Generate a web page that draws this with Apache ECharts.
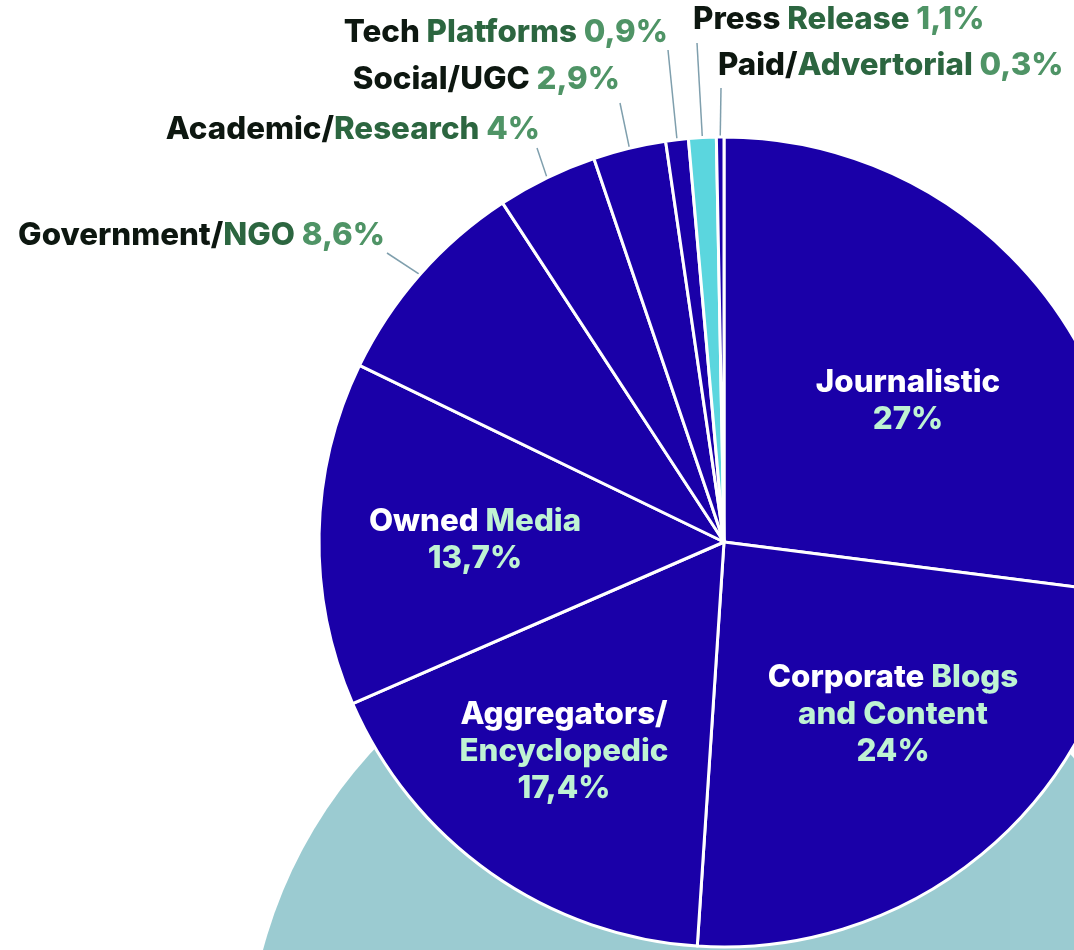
<!DOCTYPE html>
<html><head><meta charset="utf-8">
<script src="https://cdn.jsdelivr.net/npm/echarts@6/dist/echarts.min.js"></script>
<style>html,body{margin:0;padding:0;background:#fff}#c{width:1074px;height:950px}</style>
</head><body><div id="c"></div>
<script>
// ---- data ----
const categories = ['Journalistic', 'Corporate Blogs and Content', 'Aggregators/Encyclopedic', 'Owned Media',
  'Government/NGO', 'Academic/Research', 'Social/UGC', 'Tech Platforms', 'Press Release', 'Paid/Advertorial'];
const values = [27, 24, 17.4, 13.7, 8.6, 4, 2.9, 0.9, 1.1, 0.3];
// rich-text display of each name (white/dark part | mint/green part)
const namePrimary = ['Journalistic', 'Corporate', 'Aggregators/', 'Owned', 'Government/', 'Academic/', 'Social/UGC', 'Tech', 'Press', 'Paid/'];
const nameSecondary = ['', 'Blogs\nand Content', 'Encyclopedic', 'Media', 'NGO', 'Research', '', 'Platforms', 'Release', 'Advertorial'];

// ---- style / layout ----
const sliceColors = ['#1a00a8', '#1a00a8', '#1a00a8', '#1a00a8', '#1a00a8', '#1a00a8', '#1a00a8', '#1a00a8', '#5bd6de', '#1a00a8'];
const CX = 724, CY = 542, R = 405;
const insideCenters = {0: [908, 401], 1: [893, 715], 2: [564, 752], 3: [475, 540]};
const outsideLabels = {
  4: {x: 385, y: 236, align: 'right', end: [387, 253]},
  5: {x: 540, y: 130, align: 'right', end: [537, 148]},
  6: {x: 620, y: 80, align: 'right', end: [620, 103]},
  7: {x: 668, y: 33, align: 'right', end: [668, 50]},
  8: {x: 693, y: 20, align: 'left', end: [697, 43]},
  9: {x: 718, y: 66, align: 'left', end: [721, 88]}
};

const fmtPct = v => String(v).replace('.', ',') + '%';
const total = values.reduce((a, b) => a + b, 0);
function midAngle(i) { // clockwise from top, radians
  let s = 0; for (let k = 0; k < i; k++) s += values[k];
  return (s + values[i] / 2) / total * Math.PI * 2;
}

const FONT = 'Inter';
const FS = 31.3;
const FW = 800;
const data = categories.map((name, i) => {
  const inside = insideCenters[i] !== undefined;
  let text;
  if (inside) {
    const sec = nameSecondary[i];
    let first;
    if (sec) {
      const parts = sec.split('\n');
      first = (i === 2) ? '{w|' + namePrimary[i] + '}\n{m|' + parts[0] + '}'
                        : '{w|' + namePrimary[i] + ' }{m|' + parts[0] + '}';
      for (let k = 1; k < parts.length; k++) first += '\n{m|' + parts[k] + '}';
    } else {
      first = '{w|' + namePrimary[i] + '}';
    }
    text = first + '\n{m|' + fmtPct(values[i]) + '}';
  } else {
    const sep = namePrimary[i].endsWith('/') ? '' : ' ';
    text = '{d|' + namePrimary[i] + (nameSecondary[i] ? sep + '}{g|' + nameSecondary[i] + ' }' : ' }') + '{p|' + fmtPct(values[i]) + '}';
  }
  return {
    name, value: values[i],
    itemStyle: {color: sliceColors[i]},
    label: {
      show: true,
      position: inside ? 'inside' : 'outside',
      formatter: () => text,
      align: inside ? 'center' : (outsideLabels[i] || {}).align
    },
    labelLine: {show: !inside}
  };
});

const chart = echarts.init(document.getElementById('c'), null, {renderer: 'canvas'});
chart.setOption({
  backgroundColor: '#ffffff',
  animation: false,
  graphic: [{
    type: 'circle', z: -10, silent: true,
    shape: {cx: 720, cy: 1072, r: 473},
    style: {fill: '#9bcbd1'}
  }],
  series: [{
    type: 'pie',
    center: [CX, CY],
    radius: R,
    startAngle: 90,
    clockwise: true,
    avoidLabelOverlap: false,
    itemStyle: {borderColor: '#ffffff', borderWidth: 3},
    label: {
      fontFamily: FONT, fontWeight: FW,
      rich: {
        w: {color: '#ffffff', fontSize: FS, fontWeight: FW, fontFamily: FONT, lineHeight: 37, align: 'center'},
        m: {color: '#bff3d3', fontSize: FS, fontWeight: FW, fontFamily: FONT, lineHeight: 37, align: 'center'},
        d: {color: '#0d1710', fontSize: FS, fontWeight: FW, fontFamily: FONT, lineHeight: 38},
        g: {color: '#2c6640', fontSize: FS, fontWeight: FW, fontFamily: FONT, lineHeight: 38},
        p: {color: '#4f9466', fontSize: FS, fontWeight: FW, fontFamily: FONT, lineHeight: 38}
      }
    },
    labelLine: {lineStyle: {color: '#7f9fad', width: 1.5}, length: 20, length2: 0},
    labelLayout: function (params) {
      const i = params.dataIndex;
      if (insideCenters[i]) {
        return {x: insideCenters[i][0], y: insideCenters[i][1], align: 'center', verticalAlign: 'middle'};
      }
      const o = outsideLabels[i];
      const a = midAngle(i);
      const inner = [CX + (R - 2) * Math.sin(a), CY - (R - 2) * Math.cos(a)];
      return {x: o.x, y: o.y, align: o.align, verticalAlign: 'middle', labelLinePoints: [inner, o.end, o.end]};
    },
    data
  }]
});
</script></body></html>
